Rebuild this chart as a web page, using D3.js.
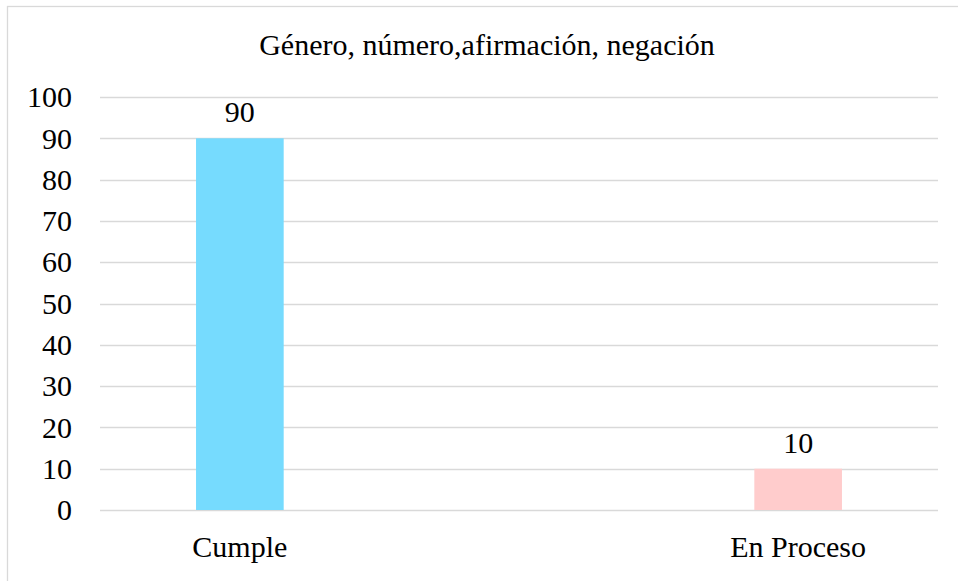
<!DOCTYPE html>
<html>
<head>
  <meta charset="UTF-8">
  <script src="https://d3js.org/d3.v7.min.js"></script>
</head>
<body style="margin:0">
  <svg id="chart" width="958" height="581"></svg>
  <script>
    const title = 'Género, número,afirmación, negación';
    const categories = ['Cumple', 'En Proceso'];
    const values = [90, 10];
    const colors = ['#76DBFE', '#FFCCCC'];
    const yTicks = [0, 10, 20, 30, 40, 50, 60, 70, 80, 90, 100];

    const serif = "'Liberation Serif', 'Times New Roman', Tinos, FreeSerif, serif";

    const svg = d3.select('#chart');
    const margin = { left: 100, right: 20, top: 97, bottom: 71 };
    const width = 958, height = 581;

    // outer chart border (right/bottom edges fall outside the picture)
    svg.append('rect')
      .attr('x', 7.5).attr('y', 6.5)
      .attr('width', 960).attr('height', 600)
      .attr('fill', 'none')
      .attr('stroke', '#d9d9d9')
      .attr('stroke-width', 1.3);

    const x = d3.scaleBand()
      .domain(categories)
      .range([margin.left, width - margin.right])
      .paddingInner(0.843)
      .paddingOuter(0.172);

    const y = d3.scaleLinear()
      .domain([0, 100])
      .range([height - margin.bottom, margin.top]);

    // gridlines
    svg.append('g')
      .selectAll('line')
      .data(yTicks)
      .join('line')
      .attr('x1', margin.left)
      .attr('x2', width - margin.right)
      .attr('y1', d => Math.round(y(d)) + 0.5)
      .attr('y2', d => Math.round(y(d)) + 0.5)
      .attr('stroke', '#d9d9d9')
      .attr('stroke-width', 1.5);

    // bars
    svg.append('g')
      .selectAll('rect')
      .data(values)
      .join('rect')
      .attr('x', (d, i) => x(categories[i]))
      .attr('width', x.bandwidth())
      .attr('y', d => y(d))
      .attr('height', d => y(0) - y(d))
      .attr('fill', (d, i) => colors[i]);

    // y axis labels (plain text, no axis group styling)
    svg.selectAll('text.ytick')
      .data(yTicks)
      .join('text')
      .attr('class', 'ytick')
      .attr('x', 72)
      .attr('y', d => y(d))
      .attr('dy', '0.34em')
      .attr('text-anchor', 'end')
      .style('font-family', serif)
      .style('font-size', '30px')
      .text(d => d);

    // data labels
    svg.selectAll('text.val')
      .data(values)
      .join('text')
      .attr('class', 'val')
      .attr('x', (d, i) => x(categories[i]) + x.bandwidth() / 2)
      .attr('y', d => y(d) - 16)
      .attr('text-anchor', 'middle')
      .style('font-family', serif)
      .style('font-size', '30px')
      .text(d => d);

    // category labels
    svg.selectAll('text.cat')
      .data(categories)
      .join('text')
      .attr('class', 'cat')
      .attr('x', d => x(d) + x.bandwidth() / 2)
      .attr('y', height - margin.bottom + 47)
      .attr('text-anchor', 'middle')
      .style('font-family', serif)
      .style('font-size', '30px')
      .text(d => d);

    // title
    svg.append('text')
      .attr('x', 487)
      .attr('y', 55)
      .attr('text-anchor', 'middle')
      .style('font-family', serif)
      .style('font-size', '30px')
      .text(title);
  </script>
</body>
</html>
